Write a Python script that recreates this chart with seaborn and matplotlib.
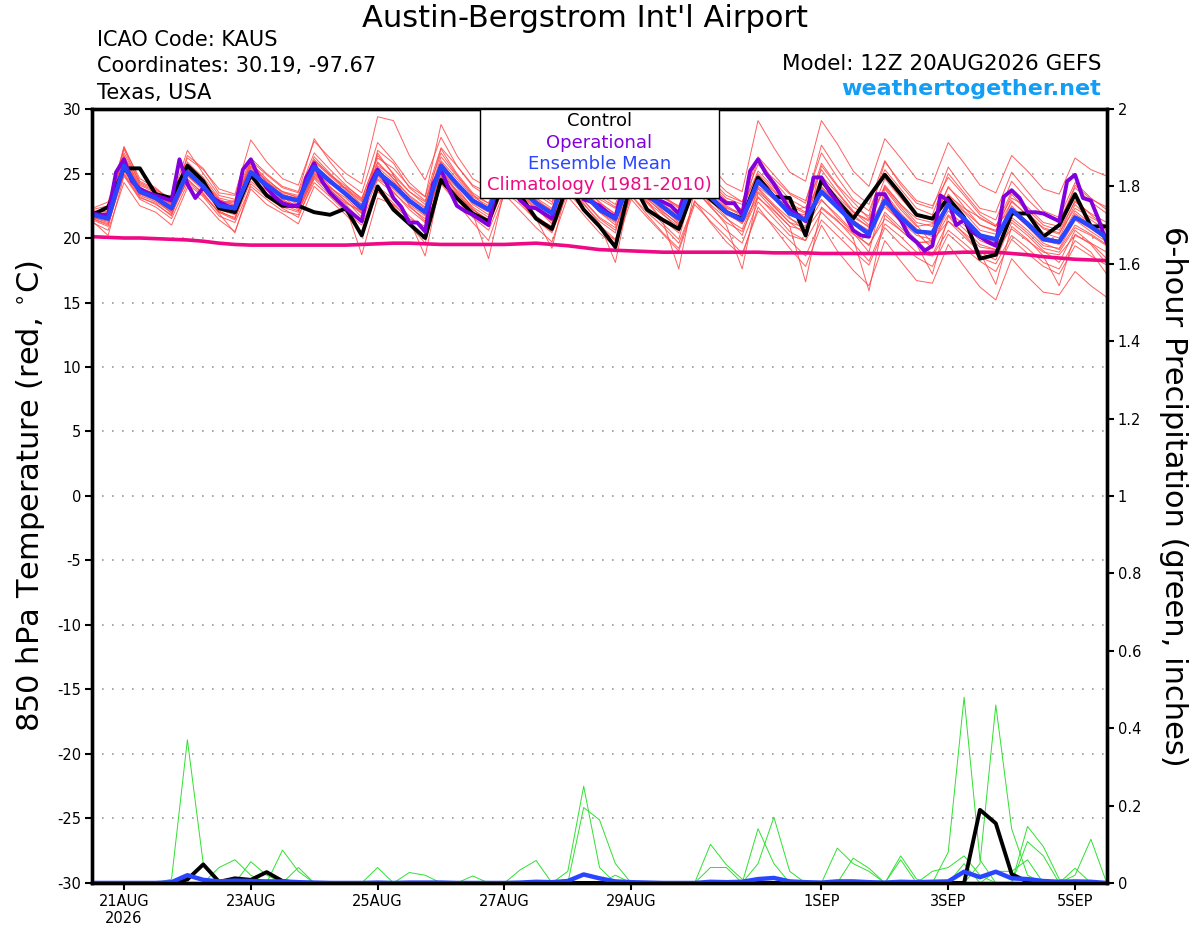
import numpy as np
import pandas as pd
import matplotlib
matplotlib.use("Agg")
import matplotlib.pyplot as plt
from matplotlib.patches import Rectangle
import seaborn as sns

# ---- data ----
run_start = "2026-08-20 12:00"
times6 = pd.date_range(run_start, periods=65, freq="6h")
times3 = pd.date_range(run_start, periods=129, freq="3h")

tick_dates = ["2026-08-21", "2026-08-23", "2026-08-25", "2026-08-27",
              "2026-08-29", "2026-09-01", "2026-09-03", "2026-09-05"]
tick_labels = ["21AUG\n2026", "23AUG", "25AUG", "27AUG", "29AUG", "1SEP", "3SEP", "5SEP"]

control_temp = [21.8, 22.4, 25.4, 25.4, 23.4, 23.1, 25.6, 24.4, 22.3, 22.0, 24.9, 23.3, 22.5,
                22.5, 22.0, 21.8, 22.3, 20.2, 24.0, 22.2, 21.1, 20.0, 24.5, 23.1, 21.9, 21.3,
                24.5, 23.3, 21.5, 20.7, 24.2, 22.2, 20.9, 19.3, 24.5, 22.2, 21.4, 20.7, 24.0,
                23.0, 22.0, 21.5, 24.7, 23.2, 23.1, 20.2, 24.5, 22.9, 21.5, 23.2, 24.9, 23.4,
                21.8, 21.5, 23.1, 21.6, 18.4, 18.7, 21.9, 21.9, 20.1, 21.0, 23.4, 20.9, 20.9]

mean_temp = [21.8, 21.5, 25.6, 23.6, 23.1, 22.3, 25.1, 24.0, 22.5, 22.3, 25.1, 24.1, 23.2,
             22.9, 25.5, 24.4, 23.4, 22.3, 25.1, 24.1, 22.9, 22.0, 25.6, 24.2, 22.9, 22.2,
             25.0, 23.8, 22.7, 21.9, 25.0, 23.5, 22.2, 21.5, 24.8, 23.4, 22.4, 21.5, 24.8,
             23.2, 22.0, 21.4, 24.4, 23.2, 21.9, 21.4, 23.6, 22.4, 21.2, 20.3, 22.9, 21.6,
             20.5, 20.4, 22.6, 21.5, 20.2, 19.9, 22.2, 21.1, 19.9, 19.7, 21.6, 20.9, 20.0]

climo_temp = [20.1, 20.05, 20.0, 20.0, 19.95, 19.9, 19.85, 19.75, 19.6, 19.5, 19.45, 19.45, 19.45,
              19.45, 19.45, 19.45, 19.45, 19.5, 19.55, 19.6, 19.6, 19.55, 19.5, 19.5, 19.5, 19.5,
              19.5, 19.55, 19.6, 19.5, 19.4, 19.25, 19.1, 19.05, 19.0, 18.95, 18.9, 18.9, 18.9,
              18.9, 18.9, 18.9, 18.9, 18.85, 18.85, 18.85, 18.8, 18.8, 18.8, 18.8, 18.8, 18.8,
              18.8, 18.8, 18.85, 18.9, 18.9, 18.9, 18.8, 18.7, 18.55, 18.45, 18.35, 18.3, 18.25]

oper_temp = [21.9, 21.8, 21.8, 25.1, 26.1, 24.4, 23.8, 23.5, 23.3, 23.1, 22.9, 26.1, 24.2,
             23.1, 23.9, 23.2, 22.8, 22.5, 22.3, 25.3, 26.1, 24.7, 23.9, 23.2, 22.7, 22.5,
             22.5, 24.7, 25.8, 24.4, 23.5, 22.9, 22.3, 21.8, 21.3, 24.1, 25.3, 24.4, 23.1,
             22.4, 21.2, 21.2, 20.5, 24.2, 25.3, 23.8, 22.5, 22.1, 21.8, 21.4, 21.0, 24.0,
             25.0, 24.0, 22.9, 22.4, 22.3, 21.9, 21.5, 24.0, 25.0, 24.0, 23.0, 22.8, 22.5,
             22.0, 21.6, 24.0, 25.0, 24.5, 23.2, 22.9, 22.8, 22.5, 21.9, 24.0, 25.0, 24.5,
             23.5, 23.2, 22.7, 22.7, 21.8, 25.2, 26.1, 25.0, 24.2, 23.2, 22.2, 21.8, 21.3,
             24.7, 24.7, 23.6, 22.8, 21.8, 20.6, 20.2, 20.1, 23.4, 23.4, 22.2, 21.4, 20.2,
             19.7, 19.0, 19.4, 23.3, 22.9, 21.0, 21.4, 20.5, 20.1, 19.7, 19.4, 23.2, 23.7,
             23.1, 22.0, 22.0, 21.9, 21.6, 21.3, 24.4, 24.9, 23.1, 22.9, 21.4, 19.6]

temp_members = [
    [22.3, 22.8, 26.9, 24.2, 23.6, 22.9, 26.2, 25.3, 23.8, 23.4, 27.6, 25.9, 24.6, 24.1, 27.5, 26.2,
     25.0, 24.2, 29.4, 29.1, 26.4, 24.5, 27.8, 25.6, 24.0, 23.2, 26.8, 24.9, 23.6, 22.8, 26.5, 24.8,
     23.4, 22.6, 25.9, 24.5, 23.1, 22.5, 25.4, 24.1, 22.9, 22.2, 25.2, 23.9, 22.7, 22.0, 24.6, 23.2,
     22.0, 21.4, 24.0, 22.6, 21.5, 21.2, 23.4, 22.1, 21.0, 20.6, 22.8, 21.8, 20.8, 20.4, 22.3, 21.6, 20.9],
    [21.2, 20.6, 24.3, 22.5, 22.0, 21.0, 23.9, 22.8, 21.4, 20.5, 23.8, 22.6, 21.9, 21.1, 24.0, 22.9,
     21.8, 20.4, 23.6, 22.5, 21.0, 19.6, 24.2, 22.7, 21.2, 19.8, 23.4, 22.1, 20.8, 19.7, 23.2, 21.8,
     20.4, 19.3, 23.0, 21.6, 20.3, 19.0, 22.6, 21.3, 20.1, 18.8, 22.1, 21.0, 19.8, 18.6, 21.4, 20.2,
     19.0, 17.9, 20.8, 19.5, 18.5, 17.8, 20.3, 19.2, 18.2, 17.4, 19.9, 18.8, 17.8, 17.2, 19.4, 18.6, 17.9],
    [21.9, 21.8, 26.1, 23.9, 23.4, 22.6, 25.6, 24.5, 22.9, 22.7, 25.8, 24.6, 23.5, 23.2, 26.1, 24.9,
     23.8, 22.8, 25.9, 24.6, 23.3, 22.4, 26.3, 24.8, 23.3, 22.7, 25.7, 24.3, 23.1, 22.3, 25.8, 24.1,
     22.7, 21.9, 25.6, 24.0, 22.9, 21.9, 25.7, 23.9, 22.5, 21.8, 26.2, 24.4, 23.0, 22.3, 25.3, 23.6,
     22.1, 21.0, 24.1, 22.6, 21.2, 20.9, 24.0, 22.4, 21.0, 20.5, 23.4, 22.0, 20.7, 20.3, 22.9, 21.8, 20.8],
    [21.6, 21.2, 25.2, 23.3, 22.8, 22.0, 24.8, 23.7, 22.2, 21.8, 24.6, 23.7, 22.8, 22.4, 25.0, 23.9,
     22.9, 21.6, 24.5, 23.5, 22.4, 21.5, 25.0, 23.7, 22.4, 21.6, 24.5, 23.3, 22.2, 21.3, 24.4, 22.9,
     21.6, 20.8, 24.1, 22.8, 21.8, 20.9, 24.2, 22.6, 21.5, 20.7, 23.6, 22.5, 21.2, 20.8, 22.9, 21.8,
     20.5, 19.4, 22.0, 20.8, 19.7, 19.6, 21.8, 20.7, 19.5, 19.1, 21.4, 20.4, 19.2, 18.9, 20.8, 20.2, 19.4],
    [21.7, 21.4, 25.9, 23.8, 23.3, 22.5, 25.3, 24.3, 22.8, 22.6, 25.5, 24.5, 23.6, 23.3, 26.0, 24.9,
     24.0, 23.1, 26.2, 25.4, 24.0, 23.2, 27.0, 25.6, 24.1, 23.5, 26.4, 25.2, 24.1, 23.4, 26.6, 25.0,
     23.7, 23.0, 26.5, 25.2, 24.1, 23.4, 27.2, 25.6, 24.2, 23.6, 29.1, 27.0, 25.1, 24.4, 29.1, 27.3,
     25.2, 24.0, 27.7, 26.2, 24.6, 24.2, 27.4, 25.8, 24.1, 23.5, 26.4, 25.2, 23.8, 23.4, 26.2, 25.3, 24.8],
    [21.5, 21.0, 25.4, 23.4, 22.9, 22.1, 24.9, 23.8, 22.3, 22.0, 24.9, 23.9, 22.9, 22.5, 25.3, 24.0,
     22.8, 21.9, 24.8, 23.6, 22.2, 21.2, 25.1, 23.5, 22.0, 20.9, 24.2, 22.8, 21.4, 20.5, 23.9, 22.3,
     20.8, 19.8, 23.3, 21.8, 20.4, 19.2, 22.9, 21.2, 19.7, 18.6, 22.4, 20.8, 19.2, 17.8, 21.0, 19.0,
     17.5, 16.3, 19.8, 18.2, 16.7, 16.5, 19.5, 17.8, 16.2, 15.2, 18.4, 17.0, 15.8, 15.6, 17.4, 16.3, 15.4],
    [22.1, 22.0, 26.4, 24.1, 23.5, 22.7, 25.4, 24.2, 22.6, 22.5, 25.3, 24.3, 23.4, 23.0, 25.9, 24.8,
     23.7, 22.4, 25.5, 24.4, 23.0, 22.1, 26.0, 24.6, 23.2, 22.5, 25.4, 24.0, 22.9, 22.0, 25.5, 23.8,
     22.5, 21.6, 25.0, 23.6, 22.5, 21.5, 24.9, 23.4, 22.1, 21.6, 24.5, 23.3, 22.0, 21.8, 24.4, 22.9,
     21.6, 20.9, 23.2, 21.9, 20.7, 20.2, 22.9, 21.6, 20.3, 19.8, 22.5, 21.2, 20.1, 19.8, 22.1, 21.1, 20.2],
    [21.8, 21.6, 25.0, 23.2, 22.6, 21.8, 24.6, 23.4, 22.0, 21.6, 24.9, 23.5, 22.6, 22.1, 24.7, 23.6,
     22.4, 18.7, 23.1, 22.6, 21.4, 18.6, 24.5, 23.2, 21.9, 18.4, 23.8, 22.8, 21.5, 19.2, 24.3, 22.7,
     21.1, 18.1, 24.0, 22.9, 21.3, 17.6, 23.8, 22.5, 21.0, 17.6, 23.5, 22.2, 20.9, 16.6, 22.4, 21.4,
     20.0, 15.9, 21.8, 20.6, 19.5, 17.2, 21.7, 20.3, 18.9, 16.4, 20.9, 19.9, 18.6, 16.3, 20.3, 19.5, 18.0],
    [22.2, 22.5, 27.1, 24.4, 23.8, 23.0, 26.8, 25.0, 23.3, 23.0, 26.2, 25.0, 24.0, 23.6, 27.7, 25.9,
     24.4, 23.5, 27.4, 26.0, 24.3, 23.2, 28.8, 26.4, 24.6, 23.9, 27.3, 25.6, 24.4, 23.8, 27.5, 25.4,
     24.0, 23.2, 26.9, 25.3, 24.3, 23.6, 26.0, 24.8, 23.6, 22.8, 26.3, 24.9, 23.5, 22.9, 26.6, 24.7,
     23.0, 22.1, 25.3, 23.8, 22.3, 21.8, 25.0, 23.5, 22.0, 21.4, 24.4, 23.0, 21.8, 21.3, 23.9, 22.8, 21.9],
    [21.4, 20.9, 25.3, 23.5, 23.0, 21.9, 24.5, 23.5, 21.9, 20.4, 24.2, 23.2, 22.3, 21.6, 24.6, 23.3,
     22.2, 21.4, 24.0, 23.0, 21.7, 20.6, 24.7, 23.3, 21.9, 21.0, 24.0, 22.9, 21.6, 20.9, 24.6, 22.9,
     21.5, 20.6, 24.2, 22.7, 21.4, 20.4, 23.8, 22.4, 21.2, 20.5, 23.1, 22.1, 20.9, 20.6, 22.3, 21.3,
     20.3, 19.5, 21.5, 20.6, 19.6, 19.8, 21.3, 20.4, 19.3, 19.1, 20.7, 19.8, 18.9, 18.7, 20.2, 19.6, 18.9],
    [21.9, 21.7, 25.7, 23.7, 23.2, 22.4, 25.9, 24.6, 22.7, 22.4, 25.0, 24.0, 23.1, 22.8, 25.5, 24.3,
     23.3, 22.0, 24.9, 23.9, 22.8, 21.8, 25.4, 24.0, 22.7, 22.0, 26.1, 24.5, 23.0, 22.1, 24.8, 23.4,
     22.0, 21.2, 24.5, 23.2, 22.1, 21.0, 25.5, 23.8, 22.4, 21.7, 24.8, 23.6, 22.3, 21.6, 23.0, 21.6,
     20.4, 18.9, 23.8, 22.2, 20.9, 21.1, 23.1, 22.0, 20.6, 20.3, 22.0, 20.9, 19.6, 19.1, 21.0, 20.3, 19.5],
    [21.6, 21.3, 26.0, 23.9, 23.4, 22.6, 25.2, 24.1, 22.7, 22.9, 25.6, 24.4, 23.3, 23.1, 25.2, 24.2,
     23.9, 22.9, 25.6, 24.8, 23.6, 22.8, 25.9, 24.3, 22.8, 22.1, 25.2, 23.6, 22.5, 21.6, 25.0, 23.3,
     22.1, 21.3, 24.4, 23.0, 22.0, 21.1, 24.0, 22.8, 21.9, 21.3, 24.0, 23.0, 22.1, 22.4, 24.2, 23.0,
     21.8, 20.8, 22.4, 21.3, 20.2, 19.9, 22.1, 21.0, 19.8, 19.3, 21.6, 20.6, 19.4, 19.2, 21.4, 20.5, 19.7],
    [22.0, 22.1, 26.6, 24.3, 23.7, 23.1, 25.8, 24.7, 23.1, 22.8, 26.0, 24.9, 23.9, 23.5, 26.6, 25.3,
     24.1, 23.0, 26.4, 25.0, 23.6, 22.6, 26.9, 25.0, 23.5, 22.7, 25.9, 24.6, 23.4, 22.6, 26.1, 24.4,
     23.0, 22.3, 25.7, 24.3, 23.3, 22.4, 25.9, 24.5, 23.3, 22.8, 25.7, 24.6, 23.4, 22.7, 27.2, 25.3,
     23.6, 22.6, 26.0, 24.1, 22.7, 22.3, 25.5, 23.8, 22.3, 22.0, 25.1, 23.6, 22.1, 21.6, 24.3, 23.1, 22.2],
    [21.3, 20.2, 24.8, 23.0, 22.4, 21.5, 24.2, 23.2, 21.7, 21.2, 24.0, 23.0, 22.1, 21.8, 24.3, 23.2,
     22.0, 21.0, 23.9, 22.7, 21.5, 20.9, 24.3, 23.0, 21.6, 20.6, 23.6, 22.6, 21.4, 20.4, 23.5, 22.2,
     21.0, 19.9, 23.3, 22.0, 20.9, 19.6, 22.8, 21.8, 20.6, 19.6, 22.8, 21.5, 20.2, 19.8, 22.0, 20.8,
     19.6, 18.2, 21.1, 20.1, 18.9, 18.6, 20.6, 19.6, 18.5, 18.0, 20.2, 19.2, 18.1, 17.6, 19.8, 18.9, 17.2],
    [21.8, 21.9, 25.8, 23.6, 23.1, 22.2, 25.0, 23.9, 22.4, 22.1, 25.2, 24.2, 23.2, 22.6, 25.7, 24.6,
     23.5, 22.6, 25.3, 24.2, 22.9, 22.0, 25.5, 24.1, 22.6, 21.8, 24.8, 23.5, 22.4, 21.5, 25.2, 23.5,
     22.2, 21.4, 25.1, 23.7, 22.6, 21.8, 25.2, 23.6, 22.3, 21.9, 24.2, 23.2, 22.4, 21.2, 23.4, 22.3,
     21.3, 20.6, 22.9, 21.5, 20.4, 19.2, 22.7, 21.3, 20.0, 19.6, 22.0, 21.0, 19.8, 19.5, 21.5, 20.7, 19.9],
    [22.0, 21.7, 25.5, 23.5, 23.0, 22.3, 25.5, 24.4, 23.0, 22.5, 25.1, 24.1, 23.0, 22.9, 25.6, 24.5,
     23.3, 22.1, 24.6, 23.8, 22.6, 21.7, 25.8, 24.2, 23.0, 22.4, 24.9, 23.9, 22.8, 22.2, 25.4, 23.6,
     22.3, 21.5, 24.7, 23.4, 22.3, 21.2, 24.6, 23.0, 21.8, 21.2, 24.7, 23.3, 21.6, 20.5, 23.9, 22.6,
     21.3, 20.2, 23.5, 21.9, 20.6, 20.1, 22.4, 21.3, 20.0, 19.7, 22.9, 21.7, 20.4, 20.0, 22.6, 21.4, 20.6],
    [21.7, 21.5, 27.0, 24.6, 23.9, 22.8, 25.7, 24.1, 22.6, 21.9, 26.0, 24.3, 23.0, 22.2, 25.1, 23.8,
     22.6, 21.3, 26.8, 25.8, 23.9, 22.9, 26.6, 24.9, 23.4, 22.2, 24.6, 23.4, 22.3, 21.1, 26.2, 24.6,
     23.2, 22.4, 24.9, 23.1, 21.9, 20.6, 25.9, 24.3, 23.1, 22.6, 25.0, 23.7, 22.5, 21.9, 25.8, 24.1,
     22.8, 21.5, 24.6, 23.1, 21.7, 21.4, 23.9, 22.8, 21.5, 20.9, 23.1, 22.4, 21.2, 20.9, 24.1, 23.0, 22.4],
    [21.5, 21.1, 24.9, 23.1, 22.7, 21.7, 25.3, 24.0, 22.1, 21.5, 24.4, 23.4, 22.4, 22.0, 24.8, 23.7,
     22.7, 22.1, 26.6, 24.9, 22.5, 21.3, 24.8, 23.4, 22.2, 21.4, 25.6, 24.3, 22.6, 21.9, 24.1, 22.6,
     21.3, 20.4, 25.3, 23.9, 22.8, 22.1, 24.4, 22.9, 21.6, 20.2, 23.9, 22.6, 21.5, 20.9, 25.6, 24.0,
     22.4, 21.7, 25.9, 24.3, 22.9, 22.5, 24.7, 23.3, 21.8, 21.0, 22.2, 21.3, 20.2, 19.6, 21.9, 21.0, 20.3],
    [22.1, 22.0, 25.3, 23.4, 23.2, 22.4, 26.4, 25.4, 23.5, 23.3, 25.4, 24.2, 23.2, 22.3, 24.9, 23.9,
     23.1, 21.9, 25.2, 24.2, 22.7, 22.2, 25.2, 23.9, 22.3, 21.2, 24.4, 22.9, 21.7, 20.8, 25.7, 24.1,
     22.8, 21.8, 24.3, 22.4, 21.1, 19.9, 24.4, 23.1, 22.0, 21.1, 23.2, 21.9, 20.5, 19.8, 24.8, 23.5,
     22.0, 21.3, 23.9, 22.4, 21.0, 19.6, 23.3, 22.3, 21.6, 20.9, 23.6, 22.2, 21.0, 20.6, 22.8, 21.9, 21.2],
    [21.8, 21.6, 26.3, 24.0, 23.0, 22.1, 24.4, 23.3, 22.0, 21.4, 25.0, 24.3, 23.6, 23.1, 26.3, 25.0,
     23.8, 22.6, 25.8, 24.6, 23.2, 22.3, 25.3, 23.6, 22.2, 21.4, 25.3, 24.0, 22.9, 22.0, 24.7, 23.2,
     22.0, 21.0, 26.0, 24.6, 23.2, 22.3, 24.5, 23.3, 22.2, 21.3, 23.8, 22.4, 21.2, 20.3, 24.0, 22.7,
     21.4, 20.5, 22.6, 21.2, 19.8, 18.7, 21.3, 20.1, 18.9, 18.3, 21.2, 20.2, 19.0, 18.1, 20.6, 19.6, 18.4],
]

control_precip = [0, 0, 0, 0, 0, 0, 0.009, 0.048, 0.003, 0.012, 0.008, 0.028, 0.005,
                  0, 0, 0, 0, 0, 0, 0, 0, 0, 0, 0, 0, 0,
                  0, 0, 0, 0, 0, 0, 0, 0, 0, 0, 0, 0, 0,
                  0, 0, 0, 0, 0, 0, 0, 0, 0, 0, 0, 0, 0,
                  0, 0, 0, 0, 0.189, 0.154, 0.023, 0.003, 0, 0, 0, 0, 0]

mean_precip = [0, 0, 0, 0, 0, 0.002, 0.02, 0.008, 0.004, 0.006, 0.005, 0.004, 0.004,
               0.002, 0.001, 0, 0, 0, 0.001, 0, 0.001, 0.001, 0.001, 0, 0, 0,
               0, 0.001, 0.003, 0.002, 0.005, 0.022, 0.012, 0.004, 0.002, 0.001, 0, 0, 0,
               0.003, 0.002, 0.003, 0.01, 0.013, 0.004, 0.002, 0.001, 0.004, 0.004, 0.002, 0.001, 0.003,
               0.002, 0.003, 0.004, 0.029, 0.015, 0.029, 0.012, 0.01, 0.005, 0.003, 0.004, 0.003, 0]

precip_members = [
    [0, 0, 0, 0, 0, 0.01, 0.37, 0.05, 0, 0, 0, 0, 0,
     0, 0, 0, 0, 0, 0, 0, 0, 0, 0, 0, 0, 0,
     0, 0, 0, 0, 0, 0, 0, 0, 0, 0, 0, 0, 0,
     0, 0, 0, 0, 0, 0, 0, 0, 0, 0, 0, 0, 0,
     0, 0, 0.08, 0.48, 0.06, 0, 0, 0, 0, 0, 0, 0, 0],
    [0, 0, 0, 0, 0, 0, 0, 0, 0, 0, 0, 0, 0,
     0, 0, 0, 0, 0, 0, 0, 0, 0, 0, 0, 0, 0,
     0, 0, 0, 0, 0.03, 0.25, 0.04, 0, 0, 0, 0, 0, 0,
     0, 0, 0, 0, 0, 0, 0, 0, 0, 0, 0, 0, 0,
     0, 0, 0, 0, 0.05, 0.46, 0.14, 0.02, 0, 0, 0, 0, 0],
    [0, 0, 0, 0, 0, 0, 0, 0, 0, 0, 0, 0, 0,
     0, 0, 0, 0, 0, 0, 0, 0, 0, 0, 0, 0, 0,
     0, 0, 0, 0, 0, 0.195, 0.163, 0.05, 0, 0, 0, 0, 0,
     0, 0, 0, 0.05, 0.17, 0.03, 0, 0, 0, 0, 0, 0, 0,
     0, 0, 0, 0, 0, 0, 0, 0, 0, 0, 0, 0, 0],
    [0, 0, 0, 0, 0, 0, 0, 0, 0, 0, 0, 0, 0,
     0, 0, 0, 0, 0, 0, 0, 0, 0, 0, 0, 0, 0,
     0, 0, 0, 0, 0, 0, 0, 0, 0, 0, 0, 0, 0,
     0, 0, 0, 0.14, 0.05, 0, 0, 0, 0.09, 0.05, 0.03, 0, 0,
     0, 0, 0, 0, 0, 0, 0, 0.146, 0.094, 0.01, 0, 0, 0],
    [0, 0, 0, 0, 0, 0, 0, 0, 0.04, 0.06, 0.02, 0, 0.085,
     0.03, 0, 0, 0, 0, 0, 0, 0, 0, 0, 0, 0, 0,
     0, 0, 0, 0, 0, 0, 0, 0, 0, 0, 0, 0, 0,
     0.10, 0.047, 0.01, 0, 0, 0, 0, 0, 0, 0, 0, 0, 0,
     0, 0, 0, 0, 0, 0, 0, 0, 0, 0, 0.02, 0.113, 0],
    [0, 0, 0, 0, 0, 0, 0, 0, 0, 0, 0.055, 0.02, 0,
     0, 0, 0, 0, 0, 0.04, 0, 0.027, 0.02, 0, 0, 0, 0,
     0, 0, 0, 0, 0, 0, 0, 0, 0, 0, 0, 0, 0,
     0, 0, 0, 0, 0, 0, 0, 0, 0, 0.064, 0.038, 0, 0.07,
     0.01, 0, 0, 0, 0, 0, 0, 0, 0, 0, 0, 0, 0],
    [0, 0, 0, 0, 0, 0, 0, 0, 0, 0, 0, 0, 0,
     0, 0, 0, 0, 0, 0, 0, 0, 0, 0, 0, 0.018, 0,
     0, 0.034, 0.058, 0, 0, 0, 0, 0, 0, 0, 0, 0, 0,
     0, 0, 0, 0, 0, 0, 0, 0, 0, 0, 0, 0, 0,
     0, 0.03, 0.04, 0.07, 0.02, 0, 0, 0.107, 0.07, 0, 0.038, 0, 0],
    [0, 0, 0, 0, 0, 0, 0.02, 0.01, 0, 0.01, 0, 0.03, 0,
     0.04, 0, 0, 0, 0, 0, 0, 0, 0, 0, 0, 0, 0,
     0, 0, 0, 0, 0, 0, 0, 0.02, 0, 0, 0, 0, 0,
     0.04, 0.04, 0, 0, 0, 0, 0, 0, 0, 0, 0, 0, 0.06,
     0, 0, 0, 0.05, 0, 0.03, 0.03, 0.06, 0, 0, 0, 0, 0],
]

legend_entries = ["Control", "Operational", "Ensemble Mean", "Climatology (1981-2010)"]
legend_colors = ["black", "#8200dc", "#2a45ff", "#ee0a84"]

# ---- long tables for seaborn ----
mem_df = pd.concat(
    [pd.DataFrame({"time": times6, "temp": vals, "member": k}) for k, vals in enumerate(temp_members)],
    ignore_index=True)
pcp_df = pd.concat(
    [pd.DataFrame({"time": times6, "precip": vals, "member": k}) for k, vals in enumerate(precip_members)],
    ignore_index=True)
main_df = pd.DataFrame({"time": times6, "control": control_temp, "mean": mean_temp,
                        "climo": climo_temp, "ctrl_p": control_precip, "mean_p": mean_precip})
oper_df = pd.DataFrame({"time": times3, "oper": oper_temp})

# ---- figure ----
sns.set_style("ticks")
plt.rcParams["font.family"] = ["DejaVu Sans"]
plt.rcParams["axes.unicode_minus"] = False
for key in ("text.color", "axes.labelcolor", "xtick.color", "ytick.color"):
    plt.rcParams[key] = "black"

fig = plt.figure(figsize=(12, 9.27), dpi=100)
ax = fig.add_axes([0.0769, 0.0475, 0.8454, 0.8349])

sns.lineplot(data=mem_df, x="time", y="temp", units="member", estimator=None,
             color="#ff4545", lw=0.7, alpha=0.85, ax=ax, legend=False)
sns.lineplot(data=main_df, x="time", y="climo", color=legend_colors[3], lw=2.6, ax=ax)
sns.lineplot(data=main_df, x="time", y="control", color="black", lw=2.8, ax=ax)
sns.lineplot(data=oper_df, x="time", y="oper", color=legend_colors[1], lw=2.8, ax=ax)
sns.lineplot(data=main_df, x="time", y="mean", color=legend_colors[2], lw=3.2, ax=ax)

ax.set_xlim(times6[0], times6[-1])
ax.set_ylim(-30, 30)
ax.set_yticks(np.arange(-30, 31, 5))
ax.yaxis.grid(True, linestyle=(0, (1, 5)), color="#9a9a9a", lw=1.2)
ax.set_xticks([pd.Timestamp(d) for d in tick_dates])
ax.set_xticklabels(tick_labels)
ax.set_xlabel("")
ax.set_ylabel(r"850 hPa Temperature (red, $^{\circ}$C)", fontsize=22)
ax.yaxis.set_label_coords(-0.045, 0.5)
ax.tick_params(axis="y", direction="out", length=5, width=1.5, labelsize=10.5, pad=3)
ax.tick_params(axis="x", direction="out", length=5, width=1.5, labelsize=10.5, pad=3)

ax2 = ax.twinx()
sns.lineplot(data=pcp_df, x="time", y="precip", units="member", estimator=None,
             color="#30e030", lw=0.7, ax=ax2, legend=False)
sns.lineplot(data=main_df, x="time", y="ctrl_p", color="black", lw=2.8, ax=ax2)
sns.lineplot(data=main_df, x="time", y="mean_p", color=legend_colors[2], lw=3.2, ax=ax2)
ax2.set_ylim(0, 2)
yt = np.round(np.arange(0, 2.01, 0.2), 1)
ax2.set_yticks(yt)
ax2.set_yticklabels([f"{v:g}" for v in yt])
ax2.set_xlabel("")
ax2.set_ylabel("6-hour Precipitation (green, inches)", fontsize=22, rotation=270, va="center")
ax2.yaxis.set_label_coords(1.066, 0.5)
ax2.tick_params(axis="y", direction="out", length=5, width=1.5, labelsize=10.5, pad=3)

for a in (ax, ax2):
    for s in a.spines.values():
        s.set_linewidth(2.4)
        s.set_color("black")

# legend box (text lines, centred)
ax2.add_patch(Rectangle((0.3822, 0.885), 0.2356, 0.115, transform=ax2.transAxes,
                        facecolor="white", edgecolor="black", lw=1.0, zorder=10))
for k, (lab, col) in enumerate(zip(legend_entries, legend_colors)):
    ax2.text(0.5, 0.984 - k * 0.0275, lab, color=col, fontsize=13, ha="center", va="center",
             transform=ax2.transAxes, zorder=11)

# header texts
fig.text(0.4875, 0.9805, "Austin-Bergstrom Int'l Airport", ha="center", va="center", fontsize=22)
fig.text(0.0808, 0.9565, "ICAO Code: KAUS", ha="left", va="center", fontsize=15)
fig.text(0.0808, 0.9285, "Coordinates: 30.19, -97.67", ha="left", va="center", fontsize=15)
fig.text(0.0808, 0.8995, "Texas, USA", ha="left", va="center", fontsize=15)
fig.text(0.9175, 0.9305, "Model: 12Z 20AUG2026 GEFS", ha="right", va="center", fontsize=15.5)
fig.text(0.9175, 0.9035, "weathertogether.net", ha="right", va="center", fontsize=16,
         fontweight="bold", color="#119ef4")

fig.savefig("out.png", dpi=100)
